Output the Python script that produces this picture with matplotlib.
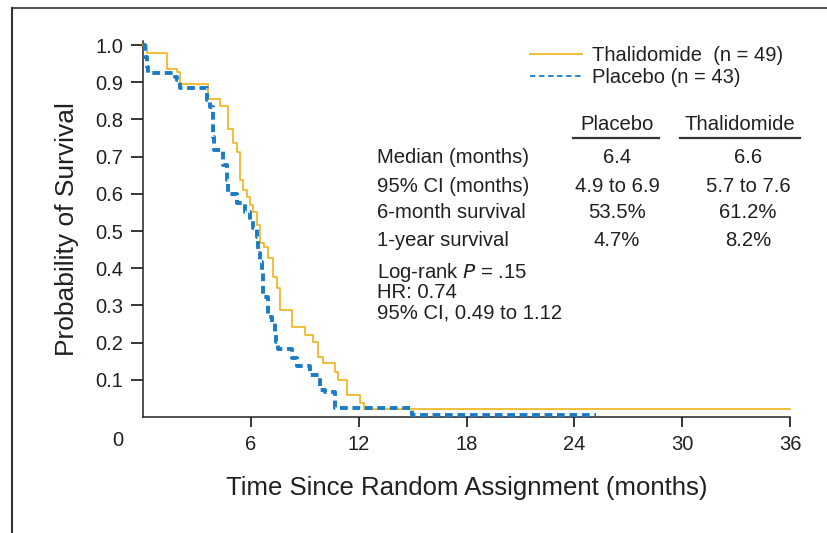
import numpy as np
import matplotlib
matplotlib.use('Agg')
import matplotlib.pyplot as plt
from matplotlib.lines import Line2D

# data (months, survival probability)
thal_t = [0, 0.22, 1.33, 1.89, 2.06, 3.61, 4.28, 4.72, 5.0, 5.22, 5.39, 5.56, 5.78, 5.94, 6.11,
          6.33, 6.5, 6.72, 6.94, 7.22, 7.44, 7.61, 8.28, 9.0, 9.44, 9.72, 10.0, 10.67, 10.83,
          11.33, 12.06, 12.28, 36]
thal_s = [1.0, 0.978, 0.935, 0.927, 0.895, 0.855, 0.836, 0.774, 0.737, 0.712, 0.637, 0.610, 0.591,
          0.570, 0.551, 0.516, 0.468, 0.457, 0.427, 0.376, 0.347, 0.288, 0.242, 0.220, 0.202,
          0.161, 0.145, 0.121, 0.099, 0.059, 0.038, 0.0215, 0.0215]

plac_t = [0, 0.11, 0.22, 0.3, 1.78, 1.9, 2.06, 3.56, 3.72, 3.89, 3.92, 3.94, 4.44, 4.47, 4.67,
          4.7, 4.72, 4.75, 5.22, 5.67, 5.94, 6.11, 6.33, 6.39, 6.5, 6.61, 6.67, 6.7, 6.94, 6.97,
          7.17, 7.33, 7.4, 7.5, 8.28, 8.56, 9.28, 9.83, 10.1, 10.67, 14.94, 25.2]
plac_s = [1.0, 0.968, 0.941, 0.925, 0.914, 0.906, 0.884, 0.852, 0.833, 0.798, 0.753, 0.718, 0.696,
          0.677, 0.664, 0.637, 0.610, 0.599, 0.575, 0.551, 0.530, 0.508, 0.484, 0.441, 0.417,
          0.390, 0.360, 0.323, 0.301, 0.269, 0.253, 0.226, 0.202, 0.183, 0.159, 0.137, 0.113,
          0.073, 0.067, 0.024, 0.006, 0.006]

xticks = [6, 12, 18, 24, 30, 36]
yticks = [0.1, 0.2, 0.3, 0.4, 0.5, 0.6, 0.7, 0.8, 0.9, 1.0]

legend_labels = ['Thalidomide  (n = 49)', 'Placebo (n = 43)']
col_headers = ['Placebo', 'Thalidomide']
row_labels = ['Median (months)', '95% CI (months)', '6-month survival', '1-year survival']
placebo_vals = ['6.4', '4.9 to 6.9', '53.5%', '4.7%']
thal_vals = ['6.6', '5.7 to 7.6', '61.2%', '8.2%']
stats_lines = ['Log-rank $\\it{P}$ = .15', 'HR: 0.74', '95% CI, 0.49 to 1.12']

YELLOW = '#f0b928'
BLUE = '#1b7cc6'
TXT = '#231f20'

fam = ['Liberation Sans', 'DejaVu Sans']

W, H = 827, 533
fig = plt.figure(figsize=(W / 100, H / 100), dpi=100)


def fx(px):
    return px / W


def fy(py):
    return 1 - py / H


# axes: x 0..36 -> px 143..790, y 0..1.01 -> px 417..41
ax = fig.add_axes([fx(143), fy(417), fx(790) - fx(143), fy(41.3) - fy(417)])
ax.set_xlim(0, 36)
ax.set_ylim(0, 1.01)

ax.step(thal_t, thal_s, where='post', color=YELLOW, lw=1.3, clip_on=False, zorder=3)
ax.step(plac_t, plac_s, where='post', color=BLUE, lw=2.8, clip_on=False, zorder=4,
        dashes=(2.0, 1.2))

for s in ['top', 'right']:
    ax.spines[s].set_visible(False)
for s in ['left', 'bottom']:
    ax.spines[s].set_linewidth(1.1)
    ax.spines[s].set_color('#222222')

ax.set_xticks(xticks)
ax.set_xticklabels([str(v) for v in xticks], family=fam, fontsize=14.5, color=TXT)
ax.set_yticks(yticks)
ax.set_yticklabels(['%.1f' % v for v in yticks], family=fam, fontsize=14.5, color=TXT)
ax.tick_params(axis='x', direction='out', length=7, width=1.1, pad=6)
ax.tick_params(axis='y', direction='out', length=9, width=1.1, pad=5)
# corner "0" label sits left of the origin
ax.text(fx(118), fy(440), '0', transform=fig.transFigure, ha='center', va='center',
        family=fam, fontsize=14.5, color=TXT)

ax.set_xlabel('Time Since Random Assignment (months)', family=fam, fontsize=18.5,
              color=TXT, labelpad=16)
ax.set_ylabel('Probability of Survival', family=fam, fontsize=19, color=TXT, labelpad=12)

# legend
handles = [Line2D([], [], color=YELLOW, lw=1.3),
           Line2D([], [], color=BLUE, lw=1.3, dashes=(3, 2))]
leg = ax.legend(handles, legend_labels, loc='upper left', frameon=False,
                bbox_to_anchor=(fx(530), fy(46)), bbox_transform=fig.transFigure,
                prop={'family': fam, 'size': 14.5}, handlelength=2.6, handletextpad=0.5,
                labelspacing=0.15, borderpad=0, borderaxespad=0)
for t in leg.get_texts():
    t.set_color(TXT)

# summary table
fs = 14.6
fig.text(fx(617), fy(125), col_headers[0], ha='center', va='center', family=fam, fontsize=fs, color=TXT)
fig.text(fx(740), fy(125), col_headers[1], ha='center', va='center', family=fam, fontsize=fs, color=TXT)
fig.add_artist(Line2D([fx(573), fx(659)], [fy(138), fy(138)], color='#333333', lw=1.6))
fig.add_artist(Line2D([fx(680), fx(800)], [fy(138), fy(138)], color='#333333', lw=1.6))

row_y = [158, 186, 213, 240]
for lab, pv, tv, yy in zip(row_labels, placebo_vals, thal_vals, row_y):
    fig.text(fx(377), fy(yy), lab, ha='left', va='center', family=fam, fontsize=fs, color=TXT)
    fig.text(fx(617), fy(yy), pv, ha='center', va='center', family=fam, fontsize=fs, color=TXT)
    fig.text(fx(748), fy(yy), tv, ha='center', va='center', family=fam, fontsize=fs, color=TXT)

for line, yy in zip(stats_lines, [273, 293, 313]):
    fig.text(fx(377), fy(yy), line, ha='left', va='center', family=fam, fontsize=fs, color=TXT)

# outer frame (clipped at right and bottom)
fig.add_artist(Line2D([fx(12), 1.0], [fy(8), fy(8)], color='#555555', lw=1.5))
fig.add_artist(Line2D([fx(12), fx(12)], [fy(8), 0.0], color='#333333', lw=1.5))

fig.savefig('out.png', dpi=100)
